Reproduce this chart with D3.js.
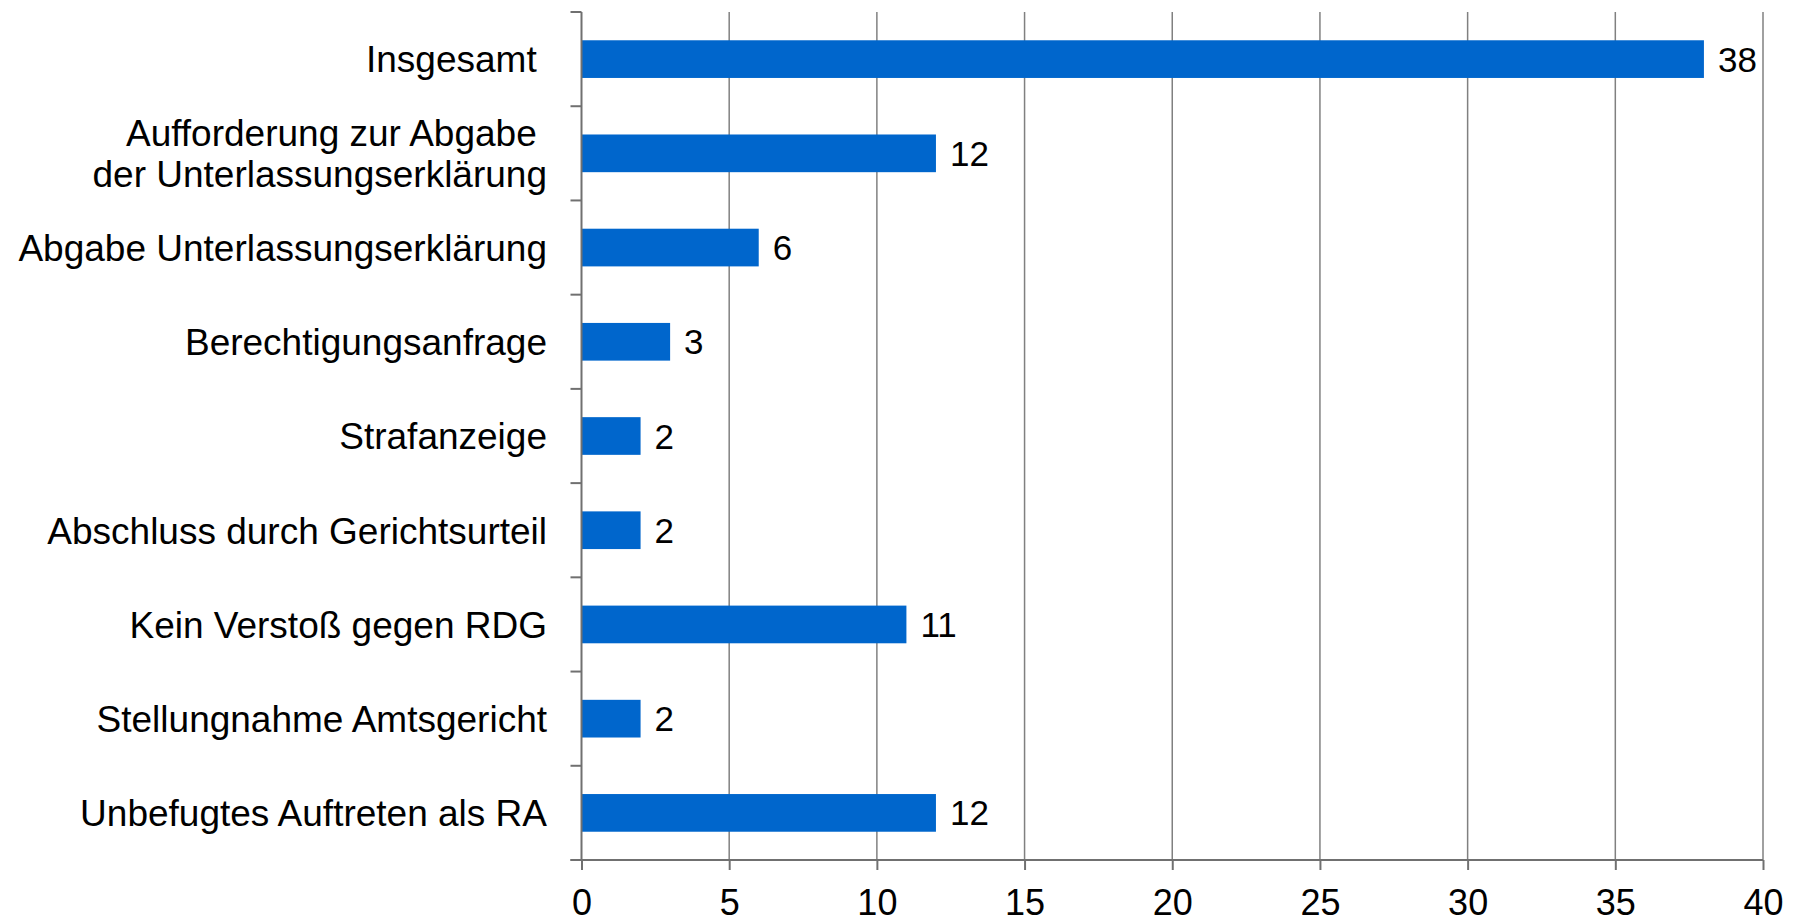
<!DOCTYPE html>
<html>
<head>
<meta charset="utf-8">
<script src="https://cdn.jsdelivr.net/npm/d3@7"></script>
<style>
  body { margin: 0; background: #fff; }
  svg { display: block; font-family: "Liberation Sans", Arial, sans-serif; }
</style>
</head>
<body>
<svg id="chart" width="1795" height="923"></svg>
<script>
// categories, top to bottom (lines split for wrapped labels)
const categories = [
    ["Insgesamt "],
    ["Aufforderung zur Abgabe ", "der Unterlassungserklärung"],
    ["Abgabe Unterlassungserklärung"],
    ["Berechtigungsanfrage"],
    ["Strafanzeige"],
    ["Abschluss durch Gerichtsurteil"],
    ["Kein Verstoß gegen RDG"],
    ["Stellungnahme Amtsgericht"],
    ["Unbefugtes Auftreten als RA"]
];
const values = [38, 12, 6, 3, 2, 2, 11, 2, 12];
const xTicks = [0, 5, 10, 15, 20, 25, 30, 35, 40];

const svg = d3.select("#chart");
const plotLeft = 581.5, plotRight = 1763, plotTop = 12, plotBottom = 860;
const axisColor = "#707070";

const x = d3.scaleLinear()
    .domain([0, 40])
    .range([plotLeft, plotRight]);

const y = d3.scaleBand()
    .domain(d3.range(categories.length))
    .range([plotTop, plotBottom])
    .paddingInner(0.6)
    .paddingOuter(0.3);

const step = y.step();

// vertical gridlines
svg.append("g")
    .selectAll("line")
    .data(xTicks.filter(d => d > 0))
    .join("line")
    .attr("x1", d => x(d))
    .attr("x2", d => x(d))
    .attr("y1", plotTop)
    .attr("y2", plotBottom)
    .attr("stroke", "#808080")
    .attr("stroke-width", 1.5);

// bars
svg.append("g")
    .selectAll("rect")
    .data(values)
    .join("rect")
    .attr("x", x(0))
    .attr("y", (d, i) => y(i))
    .attr("width", d => x(d) - x(0))
    .attr("height", y.bandwidth())
    .attr("fill", "#0066cc");

// value labels
svg.append("g")
    .selectAll("text")
    .data(values)
    .join("text")
    .attr("x", d => x(d) + 14)
    .attr("y", (d, i) => y(i) + y.bandwidth() / 2 + 12.5)
    .attr("font-size", 35)
    .attr("fill", "#000")
    .text(d => d);

// y axis line + ticks at band boundaries
const yAxis = svg.append("g");
yAxis.append("line")
    .attr("x1", plotLeft).attr("x2", plotLeft)
    .attr("y1", plotTop).attr("y2", plotBottom)
    .attr("stroke", axisColor).attr("stroke-width", 2);
yAxis.selectAll("line.tick")
    .data(d3.range(categories.length + 1))
    .join("line")
    .attr("class", "tick")
    .attr("x1", plotLeft - 11).attr("x2", plotLeft)
    .attr("y1", i => plotTop + i * step)
    .attr("y2", i => plotTop + i * step)
    .attr("stroke", axisColor).attr("stroke-width", 2);

// category labels
const lineH = 41;
svg.append("g")
    .selectAll("text")
    .data(categories)
    .join("text")
    .attr("text-anchor", "end")
    .attr("font-size", 37)
    .attr("fill", "#000")
    .style("white-space", "pre")
    .each(function(lines, i) {
        const cy = y(i) + y.bandwidth() / 2;
        const y0 = cy - (lines.length - 1) * lineH / 2 + 13.3;
        d3.select(this).selectAll("tspan")
            .data(lines)
            .join("tspan")
            .attr("x", 547)
            .attr("y", (l, j) => y0 + j * lineH)
            .text(l => l);
    });

// x axis
const xAxis = svg.append("g")
    .attr("transform", `translate(0,${plotBottom})`)
    .call(d3.axisBottom(x).tickValues(xTicks).tickSize(10).tickPadding(19));
xAxis.select(".domain")
    .attr("d", `M${plotLeft - 11},0H${plotRight}`)
    .attr("stroke", axisColor).attr("stroke-width", 2);
xAxis.selectAll(".tick line")
    .attr("stroke", axisColor).attr("stroke-width", 2);
xAxis.selectAll(".tick text")
    .attr("font-size", 36)
    .attr("font-family", "Liberation Sans, Arial, sans-serif")
    .attr("fill", "#000");
</script>
</body>
</html>
